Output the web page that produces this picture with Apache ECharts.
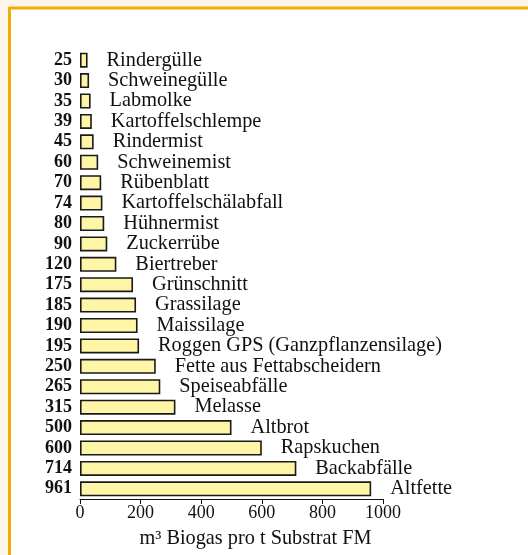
<!DOCTYPE html>
<html>
<head>
<meta charset="utf-8">
<script src="https://cdn.jsdelivr.net/npm/echarts@6/dist/echarts.min.js"></script>
<style>
  html, body { margin: 0; padding: 0; background: #fdf4ea; }
  #chart { width: 528px; height: 555px; }
</style>
</head>
<body>
<div id="chart"></div>
<script>
var substrates = ['Rindergülle', 'Schweinegülle', 'Labmolke', 'Kartoffelschlempe', 'Rindermist',
    'Schweinemist', 'Rübenblatt', 'Kartoffelschälabfall', 'Hühnermist', 'Zuckerrübe', 'Biertreber',
    'Grünschnitt', 'Grassilage', 'Maissilage', 'Roggen GPS (Ganzpflanzensilage)',
    'Fette aus Fettabscheidern', 'Speiseabfälle', 'Melasse', 'Altbrot', 'Rapskuchen',
    'Backabfälle', 'Altfette'];
var biogas = [25, 30, 35, 39, 45, 60, 70, 74, 80, 90, 120, 175, 185, 190, 195, 250, 265, 315, 500, 600, 714, 961];
var xTicks = [0, 200, 400, 600, 800, 1000];

var font = '"Liberation Serif", "DejaVu Serif", serif';

var myChart = echarts.init(document.getElementById('chart'));
var option = {
    backgroundColor: '#fdf4ea',
    animation: false,
    textStyle: { fontFamily: font },
    graphic: [
        { type: 'rect', shape: { x: 10, y: 9, width: 530, height: 560 }, style: { fill: '#ffffff' } },
        { type: 'line', shape: { x1: 9, y1: 8, x2: 528, y2: 8 }, style: { stroke: '#f2ae00', lineWidth: 3 } },
        { type: 'line', shape: { x1: 9.5, y1: 7, x2: 9.5, y2: 555 }, style: { stroke: '#f2ae00', lineWidth: 3 } }
    ],
    grid: { left: 80, right: 145, top: 50, bottom: 56 },
    xAxis: {
        type: 'value',
        min: 0,
        max: 1000,
        interval: 200,
        name: 'm³ Biogas pro t Substrat FM',
        nameLocation: 'middle',
        nameGap: 30,
        nameTextStyle: { fontFamily: font, fontSize: 20.3, color: '#111', padding: [0, 0, 0, 48] },
        axisLine: { show: true, lineStyle: { color: '#111', width: 1 } },
        axisTick: { show: true, length: 5, lineStyle: { color: '#111' } },
        axisLabel: {
            fontFamily: font, fontSize: 18, color: '#111', margin: 5,
            formatter: function (v) { return xTicks.indexOf(v) >= 0 ? String(v) : ''; }
        },
        splitLine: { show: false }
    },
    yAxis: {
        type: 'category',
        inverse: true,
        data: substrates,
        axisLine: { show: false },
        axisTick: { show: false },
        axisLabel: {
            interval: 0,
            margin: 8,
            fontFamily: font, fontSize: 18, fontWeight: 'bold', color: '#111',
            formatter: function (v, i) { return String(biogas[i]); }
        }
    },
    series: [{
        type: 'bar',
        data: biogas,
        barWidth: 15,
        itemStyle: { color: '#fff5a6', borderColor: '#1a1a1a', borderWidth: 1.6 },
        label: {
            show: true,
            position: 'right',
            distance: 19,
            fontFamily: font, fontSize: 20.3, color: '#111',
            formatter: function (p) { return substrates[p.dataIndex]; }
        }
    }]
};
myChart.setOption(option);
</script>
</body>
</html>
